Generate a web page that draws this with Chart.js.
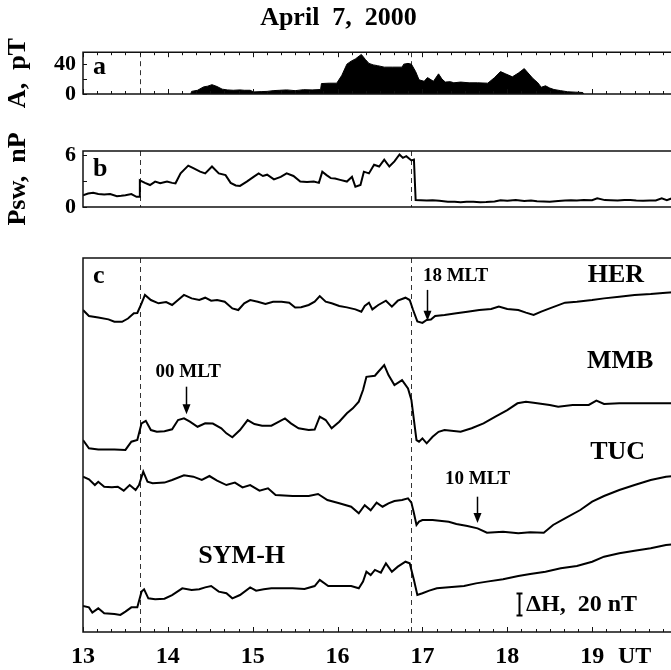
<!DOCTYPE html>
<html>
<head>
<meta charset="utf-8">
<script src="https://cdn.jsdelivr.net/npm/chart.js@4.4.1/dist/chart.umd.min.js"></script>
<style>
  html, body { margin: 0; padding: 0; background: #fff; overflow: hidden; }
  #wrap { position: relative; width: 671px; height: 670px; overflow: hidden; background: #fff; }
  .panel { position: absolute; left: 0; width: 680px; }
</style>
</head>
<body>
<div id="wrap">
  <div class="panel" style="top:0;height:112px"><canvas id="chartA"></canvas></div>
  <div class="panel" style="top:228px;height:442px"><canvas id="chartC"></canvas></div>
  <div class="panel" style="top:112px;height:150px"><canvas id="chartB"></canvas></div>
</div>
<script>
// sudden impulse times (UT hours), shared by all panels
const sscTimes = [13.67, 16.87];
const hourTicks = [13, 14, 15, 16, 17, 18, 19];
const unitLabel = 'UT';
const aTickValues = [0, 20, 40];
const aTickLabels = ['0', '', '40'];
const bTickValues = [0, 3, 6];
const bTickLabels = ['0', '', '6'];

// panel a: Pc1 amplitude, pT
const ampSeries = [
  [14.27, 0], [14.28, 3.5], [14.35, 5], [14.42, 9.5], [14.47, 10.5], [14.52, 12.5], [14.58, 10], [14.64, 6.5],
  [14.7, 5.5], [14.77, 5], [14.85, 5.5], [14.9, 5], [14.97, 5], [15.01, 2.8], [15.1, 3.2], [15.17, 3.5],
  [15.24, 4.5], [15.32, 5], [15.4, 5.5], [15.5, 4.5], [15.6, 5.8], [15.7, 5.5], [15.8, 6], [15.81, 14],
  [15.9, 14.5], [15.99, 14.5], [16.05, 25], [16.11, 40], [16.16, 44], [16.21, 47], [16.28, 53], [16.33, 46],
  [16.37, 41], [16.42, 39], [16.47, 38], [16.55, 36], [16.65, 36], [16.76, 36], [16.78, 40], [16.83, 41],
  [16.87, 40], [16.92, 30], [16.96, 19], [17.02, 17], [17.06, 22], [17.13, 17], [17.19, 27], [17.23, 20],
  [17.27, 16], [17.33, 16.5], [17.37, 15], [17.45, 16], [17.55, 15], [17.65, 15], [17.77, 14.5], [17.85, 22],
  [17.92, 30], [17.98, 27], [18.06, 23], [18.13, 28], [18.2, 34], [18.3, 21], [18.36, 15], [18.4, 9],
  [18.45, 11], [18.5, 8], [18.55, 6], [18.63, 4.5], [18.71, 3], [18.8, 2.5], [18.89, 2], [18.9, 0]
];

// panel b: solar wind dynamic pressure, nPa
const pswSeries = [
  [13.0, 1.37], [13.06, 1.57], [13.12, 1.65], [13.18, 1.5], [13.25, 1.45], [13.32, 1.5], [13.4, 1.25], [13.45, 1.3],
  [13.5, 1.37], [13.57, 1.5], [13.63, 1.18], [13.66, 1.2], [13.67, 3.1], [13.73, 2.8], [13.79, 2.55], [13.85, 2.95],
  [13.91, 2.75], [13.99, 2.95], [14.05, 2.8], [14.09, 2.75], [14.15, 3.9], [14.24, 4.8], [14.3, 4.5], [14.38, 4.1],
  [14.44, 3.9], [14.52, 4.7], [14.6, 3.9], [14.68, 3.7], [14.74, 2.8], [14.8, 2.5], [14.85, 2.45], [14.93, 2.95],
  [15.01, 3.5], [15.07, 3.9], [15.12, 3.6], [15.17, 3.75], [15.25, 3.2], [15.33, 3.5], [15.4, 3.9], [15.48, 3.6],
  [15.56, 2.95], [15.64, 2.9], [15.72, 2.95], [15.78, 2.8], [15.82, 4.1], [15.87, 3.7], [15.92, 3.35], [15.97, 3.3],
  [16.03, 3.15], [16.11, 2.95], [16.17, 3.5], [16.21, 2.35], [16.27, 2.55], [16.31, 4.1], [16.37, 3.9], [16.43, 4.9],
  [16.49, 4.7], [16.55, 5.5], [16.61, 4.7], [16.67, 5.3], [16.73, 6.1], [16.77, 5.7], [16.81, 5.9], [16.87, 5.4],
  [16.9, 5.5], [16.92, 0.8], [16.98, 0.78], [17.05, 0.75], [17.12, 0.78], [17.2, 0.72], [17.3, 0.6], [17.38, 0.62],
  [17.45, 0.55], [17.52, 0.6], [17.6, 0.62], [17.68, 0.55], [17.75, 0.58], [17.85, 0.65], [17.92, 0.78], [18.0, 0.72],
  [18.1, 0.8], [18.2, 0.7], [18.28, 0.75], [18.35, 0.68], [18.43, 0.65], [18.5, 0.62], [18.6, 0.7], [18.68, 0.75],
  [18.75, 0.78], [18.82, 0.75], [18.9, 0.82], [19.0, 0.78], [19.06, 1.0], [19.15, 0.8], [19.22, 0.78], [19.3, 0.75],
  [19.38, 0.8], [19.45, 0.82], [19.52, 0.75], [19.6, 0.72], [19.68, 0.75], [19.75, 0.75], [19.82, 1.0], [19.88, 0.8],
  [19.95, 1.05]
];

// panel c: H component, nT (stacked with offsets)
const herSeries = [
  [13.0, 292.7], [13.07, 287.3], [13.18, 286], [13.3, 284.2], [13.37, 282], [13.46, 282], [13.53, 285], [13.6, 289.7],
  [13.64, 290], [13.69, 298.8], [13.73, 306.4], [13.8, 301.8], [13.89, 298.8], [13.98, 300], [14.05, 297.3], [14.12, 301.8],
  [14.19, 306.4], [14.28, 303.3], [14.37, 301.8], [14.44, 303.9], [14.51, 301.2], [14.58, 301.8], [14.67, 300.3], [14.76, 294.2],
  [14.83, 292.7], [14.9, 298.8], [14.97, 301.8], [15.06, 300.3], [15.15, 298.2], [15.24, 300.3], [15.34, 300.3], [15.43, 299.4],
  [15.5, 295], [15.57, 295.3], [15.66, 297.3], [15.73, 300.3], [15.79, 305.4], [15.86, 300.3], [15.93, 298.8], [16.02, 296.4],
  [16.11, 295.1], [16.21, 293.3], [16.28, 291.2], [16.32, 296.4], [16.37, 299.4], [16.41, 293.3], [16.48, 297.3], [16.57, 301.2],
  [16.64, 295.8], [16.71, 301.2], [16.8, 303.9], [16.85, 301.8], [16.89, 292.7], [16.94, 282.4], [17.0, 281], [17.05, 283.6],
  [17.1, 284], [17.15, 287.3], [17.26, 288.2], [17.4, 289.7], [17.53, 291.2], [17.67, 292.7], [17.81, 293.6], [17.9, 295.8],
  [18.0, 293.6], [18.13, 292.7], [18.22, 290.3], [18.31, 288.2], [18.4, 291.2], [18.5, 294.2], [18.68, 299.4], [18.82, 300.3],
  [19.0, 301.8], [19.14, 303.3], [19.32, 304.8], [19.5, 306.4], [19.69, 307.3], [19.87, 308.5], [20, 309]
];
const mmbSeries = [
  [13.0, 174.5], [13.07, 167], [13.18, 166], [13.37, 166], [13.5, 165.5], [13.57, 173], [13.64, 174.5], [13.69, 189.7],
  [13.74, 192], [13.8, 183.6], [13.87, 182], [13.96, 182.5], [14.05, 184.3], [14.12, 192.7], [14.19, 194.2], [14.26, 191.2],
  [14.35, 186.6], [14.44, 189.7], [14.53, 189.5], [14.63, 185.2], [14.69, 180.6], [14.76, 177], [14.85, 183.6], [14.94, 192.7],
  [15.02, 189], [15.11, 187.5], [15.22, 187.5], [15.31, 191.2], [15.38, 194.2], [15.45, 189.7], [15.54, 185.2], [15.66, 183.6],
  [15.73, 184], [15.79, 195.8], [15.86, 192.7], [15.93, 185.2], [16.02, 191.2], [16.11, 198.8], [16.18, 203.3], [16.25, 209.4],
  [16.3, 220], [16.34, 232], [16.44, 233], [16.48, 236.6], [16.55, 242.7], [16.6, 233.6], [16.67, 224.5], [16.76, 229],
  [16.83, 221.5], [16.87, 211], [16.9, 192.7], [16.93, 174.5], [16.96, 173], [17.0, 176], [17.05, 171.5], [17.12, 177.5],
  [17.19, 182], [17.26, 183.6], [17.45, 182], [17.58, 185.2], [17.72, 189.7], [17.86, 195.8], [18.0, 201.8], [18.12, 207.9],
  [18.22, 209.4], [18.31, 208.5], [18.5, 206.4], [18.6, 204.8], [18.77, 206.4], [18.96, 206.4], [19.05, 210.3], [19.14, 207.3],
  [19.32, 207.9], [19.6, 207.9], [19.87, 207.9], [20, 208]
];
const tucSeries = [
  [13.0, 141.2], [13.07, 138.8], [13.14, 133.6], [13.18, 136.6], [13.25, 132.1], [13.34, 131.5], [13.41, 132.1], [13.48, 128.5],
  [13.55, 133.6], [13.62, 129.1], [13.66, 133.6], [13.71, 145.8], [13.76, 136.6], [13.82, 135.2], [13.96, 135.8], [14.05, 138.2],
  [14.19, 142.4], [14.3, 141.2], [14.4, 138.2], [14.49, 141.8], [14.58, 137.6], [14.69, 133.6], [14.79, 135.8], [14.88, 131.5],
  [14.97, 133.6], [15.08, 128.5], [15.18, 130.6], [15.27, 124.5], [15.47, 123.6], [15.66, 123.6], [15.77, 125.5], [15.88, 120],
  [16.02, 117], [16.16, 113.9], [16.25, 107.9], [16.32, 115.2], [16.39, 110.6], [16.46, 117.6], [16.53, 113.9], [16.6, 117],
  [16.67, 119.1], [16.76, 120], [16.83, 121.5], [16.87, 117.6], [16.9, 107.9], [16.93, 97.3], [16.96, 100.3], [17.0, 101.8],
  [17.12, 101.8], [17.31, 100.3], [17.4, 98.2], [17.53, 96.4], [17.65, 94.2], [17.76, 90.3], [17.95, 91.2], [18.13, 89.7],
  [18.27, 90.6], [18.43, 90.3], [18.54, 97.3], [18.68, 103.3], [18.86, 110.9], [19.0, 118.5], [19.14, 123.6], [19.32, 129.1],
  [19.5, 133.6], [19.69, 138.2], [19.87, 141.2], [20, 142]
];
const symSeries = [
  [13.0, 23.6], [13.07, 22.4], [13.11, 17.6], [13.18, 21.5], [13.25, 17], [13.37, 16.4], [13.44, 15.5], [13.5, 18.5],
  [13.57, 22.4], [13.64, 22.4], [13.69, 36.7], [13.72, 38.8], [13.77, 30.6], [13.85, 29.7], [13.96, 30.3], [14.05, 33.6],
  [14.17, 39.7], [14.28, 38.2], [14.37, 38.8], [14.44, 40.6], [14.51, 41.8], [14.6, 36.7], [14.69, 35.2], [14.76, 30.6],
  [14.85, 33.6], [14.97, 40.6], [15.04, 37.6], [15.13, 38.8], [15.22, 39.7], [15.34, 39.7], [15.47, 39.7], [15.61, 39.1],
  [15.73, 41.8], [15.79, 47.3], [15.89, 41.8], [16.02, 41.8], [16.16, 41.8], [16.25, 39.7], [16.3, 45.8], [16.34, 54.8],
  [16.39, 51.8], [16.44, 56.4], [16.51, 54], [16.57, 62.4], [16.64, 54.8], [16.71, 59.4], [16.8, 63.9], [16.85, 62.4],
  [16.9, 47.3], [16.94, 33.6], [17.0, 35.2], [17.08, 37.6], [17.17, 39.7], [17.31, 40.6], [17.49, 41.8], [17.63, 44.2],
  [17.76, 45.8], [17.95, 47.9], [18.13, 50.9], [18.27, 52.7], [18.45, 54.8], [18.63, 57.9], [18.82, 60], [19.0, 63.9],
  [19.14, 68.5], [19.32, 71.5], [19.5, 73.9], [19.69, 76.1], [19.87, 79.1], [20, 80]
];

const stationNames = ['HER', 'MMB', 'TUC'];
const indexName = 'SYM-H';
const mltNames = ['18 MLT', '00 MLT', '10 MLT'];
const mltTimes = [17.05, 14.21, 17.64];
const barLabel = '\u0394H,  20 nT';
const barNT = 20;

const serif = '"Liberation Serif", "Times New Roman", serif';
const toXY = s => s.map(p => ({x: p[0], y: p[1]}));

// box, inward ticks, dashed SSC lines, panel letter
const panelFrame = {
  id: 'panelFrame',
  beforeDatasetsDraw(chart, args, o) {
    const {ctx, chartArea: {top, bottom}, scales: {x}} = chart;
    ctx.save();
    ctx.strokeStyle = '#333';
    ctx.lineWidth = 1;
    ctx.setLineDash([5, 4]);
    sscTimes.forEach(t => {
      const px = Math.round(x.getPixelForValue(t)) + 0.5;
      ctx.beginPath();
      ctx.moveTo(px, top);
      ctx.lineTo(px, bottom);
      ctx.stroke();
    });
    ctx.restore();
  },
  afterDatasetsDraw(chart, args, o) {
    const {ctx, chartArea: {left, top, right, bottom}, scales: {x, y}} = chart;
    ctx.save();
    ctx.strokeStyle = '#111';
    ctx.lineWidth = 1.5;
    ctx.beginPath();
    ctx.moveTo(right, top); ctx.lineTo(left, top); ctx.lineTo(left, bottom); ctx.lineTo(right, bottom);
    ctx.stroke();

    ctx.lineWidth = 1;
    ctx.beginPath();
    for (let i = 0; i <= 42; i++) {
      const px = Math.round(x.getPixelForValue(13 + i / 6)) + 0.5;
      const len = i % 6 === 0 ? 5 : 3;
      if (o.tickTop) { ctx.moveTo(px, top); ctx.lineTo(px, top + len); }
      if (o.tickBottom) { ctx.moveTo(px, bottom); ctx.lineTo(px, bottom - len); }
    }
    (o.yTicks || []).forEach(v => {
      const py = Math.round(y.getPixelForValue(v)) + 0.5;
      ctx.moveTo(left, py); ctx.lineTo(left + 4, py);
    });
    ctx.stroke();

    ctx.fillStyle = '#000';
    ctx.font = 'bold 26px ' + serif;
    ctx.textAlign = 'left';
    ctx.textBaseline = 'middle';
    ctx.fillText(o.letter, left + 10, top + o.letterDy);
    ctx.restore();
  }
};

// station names, MLT arrows and the scale bar of panel c
const panelNotes = {
  id: 'panelNotes',
  afterDatasetsDraw(chart, args, o) {
    const {ctx, scales: {x, y}} = chart;
    ctx.save();
    ctx.fillStyle = '#000';
    ctx.strokeStyle = '#000';
    ctx.textBaseline = 'middle';
    o.labels.forEach(l => {
      ctx.font = 'bold ' + l.size + 'px ' + serif;
      ctx.textAlign = l.align || 'center';
      ctx.fillText(l.text, x.getPixelForValue(l.x), y.getPixelForValue(l.y));
    });
    o.arrows.forEach(a => {
      const px = Math.round(x.getPixelForValue(a.x)) + 0.5;
      const y1 = y.getPixelForValue(a.from);
      const y2 = y.getPixelForValue(a.to);
      ctx.lineWidth = 1.5;
      ctx.beginPath();
      ctx.moveTo(px, y1);
      ctx.lineTo(px, y2 - 8);
      ctx.stroke();
      ctx.beginPath();
      ctx.moveTo(px - 4, y2 - 10);
      ctx.lineTo(px + 4, y2 - 10);
      ctx.lineTo(px, y2);
      ctx.closePath();
      ctx.fill();
    });
    const b = o.bar;
    const bx = Math.round(x.getPixelForValue(b.x)) + 0.5;
    const b1 = y.getPixelForValue(b.base);
    const b2 = y.getPixelForValue(b.base + barNT);
    ctx.lineWidth = 2;
    ctx.beginPath();
    ctx.moveTo(bx, b1); ctx.lineTo(bx, b2);
    ctx.moveTo(bx - 3, b1); ctx.lineTo(bx + 3, b1);
    ctx.moveTo(bx - 3, b2); ctx.lineTo(bx + 3, b2);
    ctx.stroke();
    ctx.restore();
  }
};

const tickFont = {family: serif, size: 22, weight: 'bold'};

const hiddenX = {
  type: 'linear', min: 13, max: 20, display: false
};

function leftAxis(max, values, labels, title) {
  return {
    type: 'linear', min: 0, max: max,
    grid: {display: false, drawTicks: false},
    border: {display: false},
    afterBuildTicks: s => { s.ticks = values.map(v => ({value: v})); },
    afterFit: s => { s.width = 83; s.paddingTop = 0; s.paddingBottom = 0; },
    ticks: {
      color: '#000', font: tickFont, padding: 7,
      callback: (v, i) => labels[i]
    },
    title: {
      display: true, text: title, color: '#000',
      font: {family: serif, size: 26, weight: 'bold'},
      padding: {top: 3, bottom: 0}
    }
  };
}

const baseOpts = {
  responsive: true,
  maintainAspectRatio: false,
  animation: false,
  events: [],
  devicePixelRatio: 1
};

new Chart(document.getElementById('chartA'), {
  type: 'line',
  data: {
    datasets: [{
      data: toXY(ampSeries),
      borderColor: '#000', backgroundColor: '#000',
      borderWidth: 1, pointRadius: 0, fill: 'origin'
    }]
  },
  options: Object.assign({}, baseOpts, {
    layout: {padding: {left: 0, right: 3, top: 0, bottom: 18}},
    scales: {
      x: hiddenX,
      y: leftAxis(56, aTickValues, aTickLabels, 'A,  pT')
    },
    plugins: {
      legend: {display: false},
      tooltip: {enabled: false},
      title: {
        display: true, text: 'April  7,  2000', color: '#000',
        font: {family: serif, size: 26, weight: 'bold', lineHeight: 1.2},
        padding: {top: 3, bottom: 18}
      },
      panelFrame: {tickTop: true, tickBottom: true, yTicks: aTickValues, letter: 'a', letterDy: 15}
    }
  }),
  plugins: [panelFrame]
});

new Chart(document.getElementById('chartB'), {
  type: 'line',
  data: {
    datasets: [{
      data: toXY(pswSeries),
      borderColor: '#000', borderWidth: 2, pointRadius: 0, fill: false
    }]
  },
  options: Object.assign({}, baseOpts, {
    layout: {padding: {left: 0, right: 3, top: 39, bottom: 55}},
    scales: {
      x: hiddenX,
      y: leftAxis(6.5, bTickValues, bTickLabels, 'Psw,  nP')
    },
    plugins: {
      legend: {display: false},
      tooltip: {enabled: false},
      panelFrame: {tickTop: false, tickBottom: false, yTicks: bTickValues, letter: 'b', letterDy: 18}
    }
  }),
  plugins: [panelFrame]
});

const lineStyle = {borderColor: '#000', borderWidth: 2, pointRadius: 0, fill: false};

new Chart(document.getElementById('chartC'), {
  type: 'line',
  data: {
    datasets: [
      Object.assign({label: stationNames[0], data: toXY(herSeries)}, lineStyle),
      Object.assign({label: stationNames[1], data: toXY(mmbSeries)}, lineStyle),
      Object.assign({label: stationNames[2], data: toXY(tucSeries)}, lineStyle),
      Object.assign({label: indexName, data: toXY(symSeries)}, lineStyle)
    ]
  },
  options: Object.assign({}, baseOpts, {
    layout: {padding: {left: 83, right: 3, top: 30, bottom: 0}},
    scales: {
      x: {
        type: 'linear', min: 13, max: 20,
        grid: {display: false, drawTicks: false},
        border: {display: false},
        afterBuildTicks: s => {
          s.ticks = hourTicks.map(v => ({value: v})).concat([{value: 19.5}]);
        },
        afterFit: s => { s.height = 38; s.paddingLeft = 0; s.paddingRight = 0; },
        ticks: {
          color: '#000', font: {family: serif, size: 24, weight: 'bold'},
          padding: 10, autoSkip: false, maxRotation: 0,
          callback: v => (v === 19.5 ? unitLabel : String(v))
        }
      },
      y: {type: 'linear', min: 0, max: 340, display: false}
    },
    plugins: {
      legend: {display: false},
      tooltip: {enabled: false},
      panelFrame: {tickTop: false, tickBottom: true, yTicks: [], letter: 'c', letterDy: 18},
      panelNotes: {
        labels: [
          {text: stationNames[0], x: 19.28, y: 324, size: 26},
          {text: stationNames[1], x: 19.33, y: 246, size: 26},
          {text: stationNames[2], x: 19.3, y: 163, size: 26},
          {text: indexName, x: 14.87, y: 69, size: 26},
          {text: mltNames[0], x: 17.39, y: 324, size: 19},
          {text: mltNames[1], x: 14.24, y: 236, size: 19},
          {text: mltNames[2], x: 17.65, y: 139, size: 19},
          {text: barLabel, x: 18.22, y: 25, size: 24, align: 'left'}
        ],
        arrows: [
          {x: mltTimes[0], from: 311, to: 283},
          {x: mltTimes[1], from: 223, to: 198},
          {x: mltTimes[2], from: 123, to: 99}
        ],
        bar: {x: 18.14, base: 15}
      }
    }
  }),
  plugins: [panelFrame, panelNotes]
});
</script>
</body>
</html>
